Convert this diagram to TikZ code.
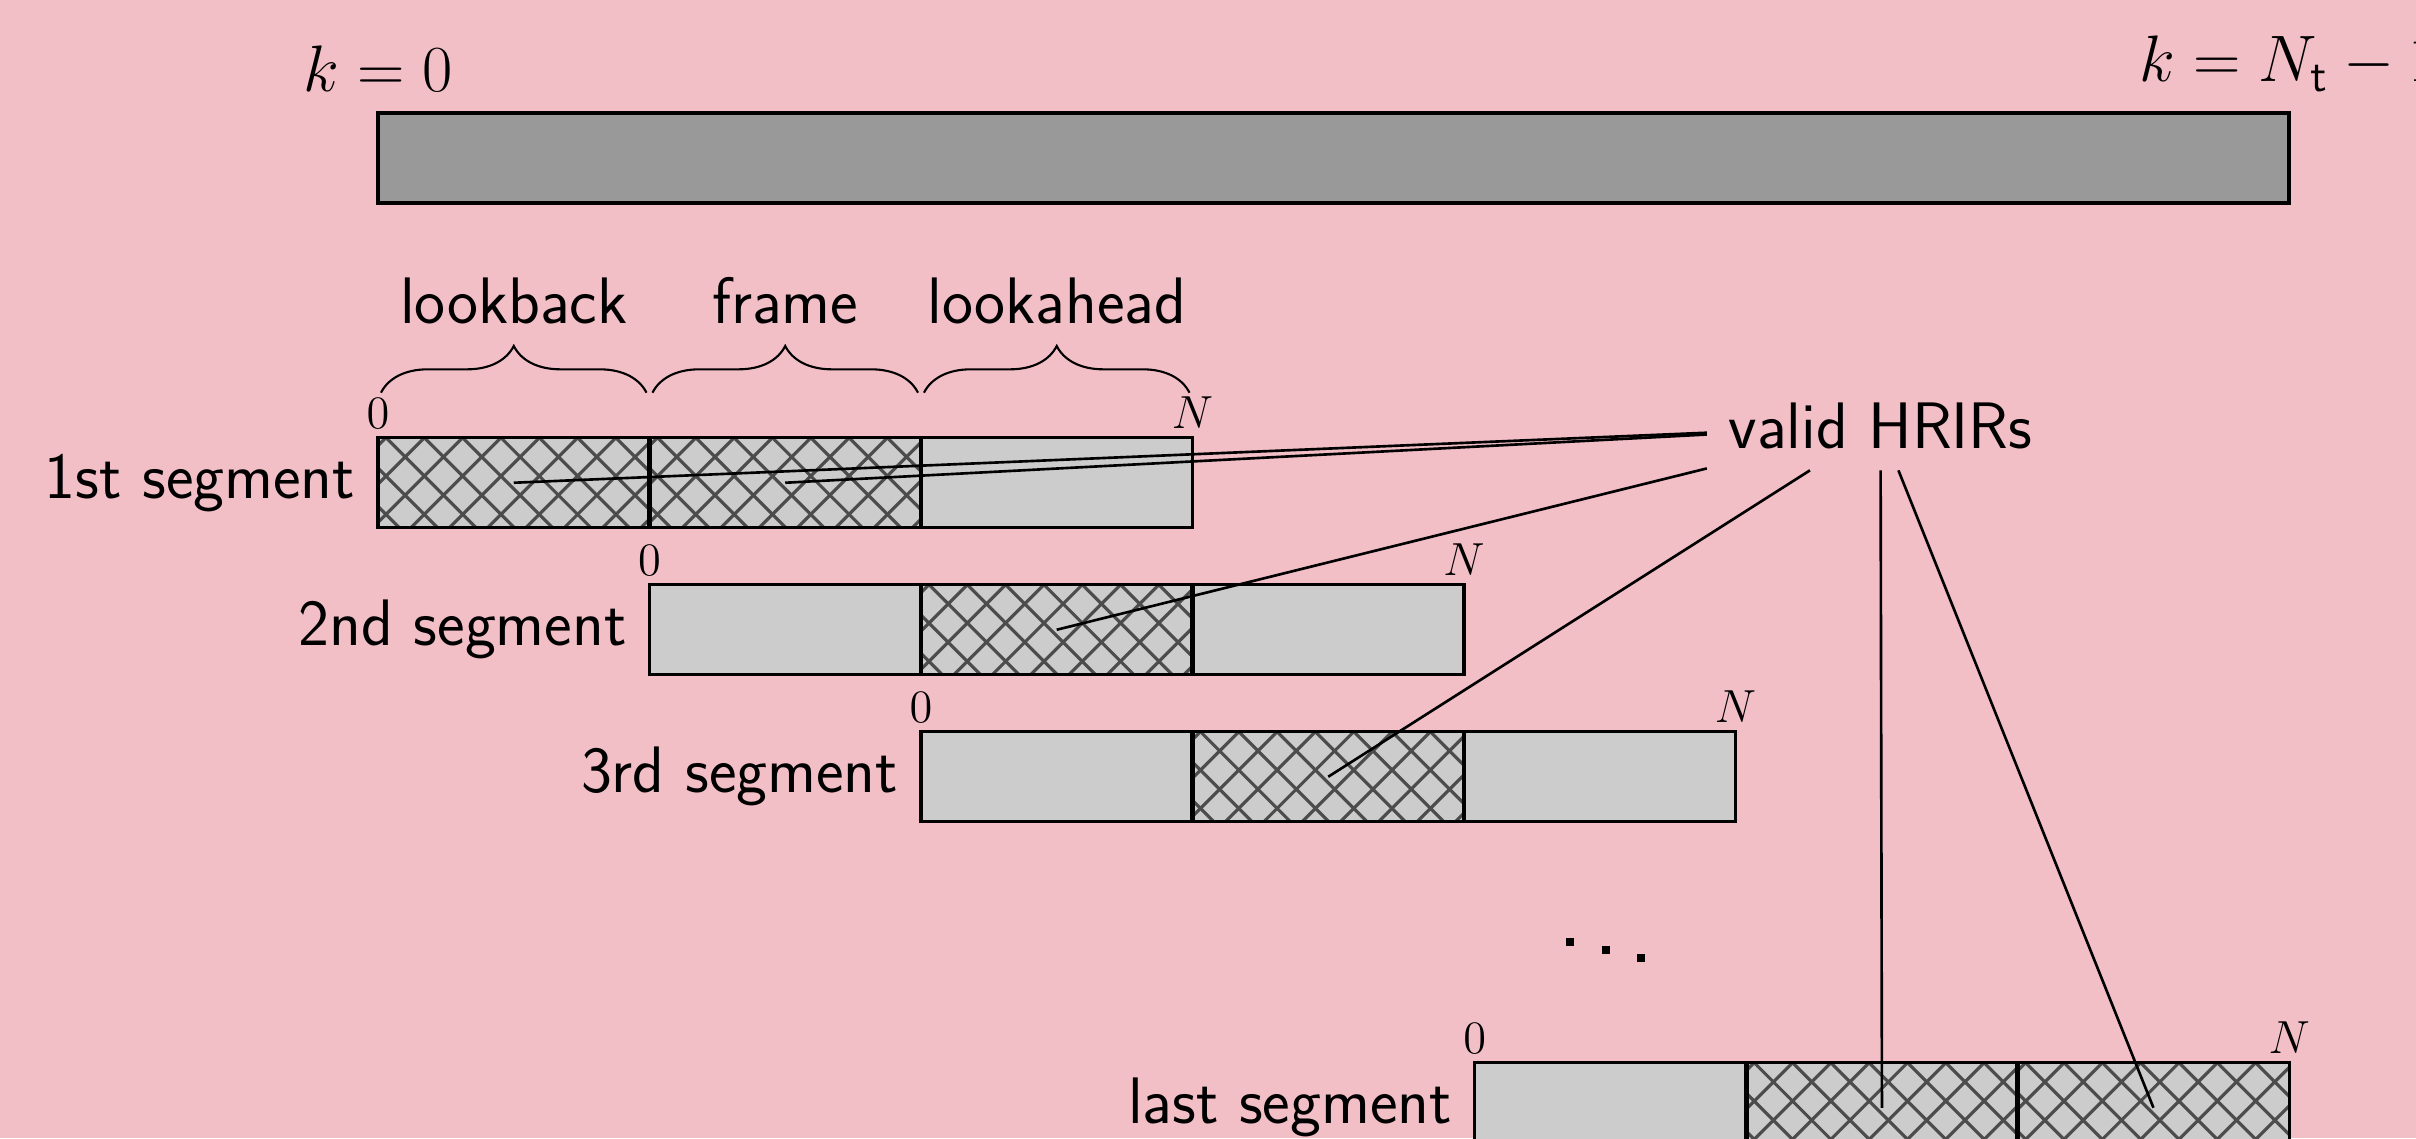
\RequirePackage{fix-cm}
\documentclass[tikz,border=0pt]{standalone}
\usetikzlibrary{decorations.pathreplacing}
\definecolor{bgpink}{RGB}{242,191,199}
\definecolor{lightbar}{RGB}{204,204,204}
\definecolor{darkbar}{RGB}{153,153,153}
\definecolor{hatchgray}{RGB}{76,76,76}
\tikzset{
  hatchline/.style={draw=hatchgray, line width=0.9pt},
  part/.style={draw=black, line width=0.95pt, fill=lightbar, minimum width=2.7133cm,
    minimum height=0.9cm, inner sep=0pt, outer sep=0pt, anchor=north west},
  hatched/.style={path picture={
    \foreach \k in {-3,...,8}{
      \draw[hatchline] ([xshift=\k*0.383cm+0.08cm]path picture bounding box.north west) -- ++(1.2cm,-1.2cm);
    }
    \foreach \k in {-1,...,10}{
      \draw[hatchline] ([xshift=\k*0.383cm+0.08cm]path picture bounding box.north west) -- ++(-1.2cm,-1.2cm);
    }
  }},
  divider/.style={draw=black, line width=1.35pt},
  conn/.style={draw=black, line width=0.75pt},
  biglabel/.style={font=\sffamily\fontsize{18.7}{22}\selectfont, inner sep=6pt},
  seglabel/.style={font=\sffamily\fontsize{18.7}{22}\selectfont, inner sep=6.3pt, anchor=east},
  mathlabel/.style={font=\fontsize{18.7}{22}\selectfont, inner sep=6pt, anchor=south},
  idxlabel/.style={font=\fontsize{13.2}{15}\selectfont, inner sep=0pt, anchor=base, yshift=0.095cm},
  bracestyle/.style={draw=black, line width=0.6pt, decorate, decoration={brace, amplitude=0.467cm}},
}
\begin{document}
\begin{tikzpicture}[x=0.01cm, y=-0.01cm]
\path[use as bounding box] (0,0) rectangle (2416,1138);
\clip (0,0) rectangle (2416,1138);
\fill[bgpink] (0,0) rectangle (2416,1138);

% total signal
\node[draw=black, line width=0.95pt, fill=darkbar, minimum width=19.1cm, minimum height=0.9cm,
      inner sep=0pt, outer sep=0pt, anchor=north west] (bar) at (378,113) {};
\node[mathlabel] (k0) at (bar.north west) {$k=0$};
\node[mathlabel] (kN) at (bar.north east) {$k=N_{\mathsf{t}}-1$};

% 1st segment
\node[part, hatched] (s1a) at (378,437.7) {};
\node[part, hatched] (s1b) at (s1a.north east) {};
\node[part] (s1c) at (s1b.north east) {};
% 2nd segment
\node[part] (s2a) at (s1b.north west |- 0,584.7) {};
\node[part, hatched] (s2b) at (s2a.north east) {};
\node[part] (s2c) at (s2b.north east) {};
% 3rd segment
\node[part] (s3a) at (s2b.north west |- 0,731.7) {};
\node[part, hatched] (s3b) at (s3a.north east) {};
\node[part] (s3c) at (s3b.north east) {};
% last segment
\node[part] (s4a) at (1474.7,1062.7) {};
\node[part, hatched] (s4b) at (s4a.north east) {};
\node[part, hatched] (s4c) at (s4b.north east) {};

% dividers
\foreach \p in {s1a,s1b,s2a,s2b,s3a,s3b,s4a,s4b}{
  \draw[divider] (\p.north east) -- (\p.south east);
}

% segment labels
\node[seglabel] (l1) at (s1a.west) {1st segment};
\node[seglabel] (l2) at (s2a.west) {2nd segment};
\node[seglabel] (l3) at (s3a.west) {3rd segment};
\node[seglabel] (l4) at (s4a.west) {last segment};

% index labels
\node[idxlabel] (z1) at (s1a.north west) {$0$};
\node[idxlabel] (n1) at (s1c.north east) {$N$};
\node[idxlabel] (z2) at (s2a.north west) {$0$};
\node[idxlabel] (n2) at (s2c.north east) {$N$};
\node[idxlabel] (z3) at (s3a.north west) {$0$};
\node[idxlabel] (n3) at (s3c.north east) {$N$};
\node[idxlabel] (z4) at (s4a.north west) {$0$};
\node[idxlabel] (n4) at (s4c.north east) {$N$};

% braces and their labels
\foreach \p/\t in {s1a/lookback, s1b/frame, s1c/lookahead}{
  \draw[bracestyle] ([xshift=0.03cm, yshift=0.45cm]\p.north west) -- ([xshift=-0.03cm, yshift=0.45cm]\p.north east);
  \node[biglabel, inner sep=0pt, anchor=base, yshift=1.137cm] (t-\p) at (\p.north) {\t};
}

% dots
\fill[black] (1566,938.3) rectangle ++(8,8);
\fill[black] (1602,946.3) rectangle ++(8,8);
\fill[black] (1637,954.3) rectangle ++(8,8);

% valid HRIRs
\node[biglabel, anchor=base] (valid) at (1880.5,448) {valid HRIRs};
\draw[conn] (valid) -- (s1a.center);
\draw[conn] (valid) -- (s1b.center);
\draw[conn] (valid) -- (s2b.center);
\draw[conn] (valid) -- (s3b.center);
\draw[conn] (valid) -- (s4b.center);
\draw[conn] (valid) -- (s4c.center);
\end{tikzpicture}
\end{document}
